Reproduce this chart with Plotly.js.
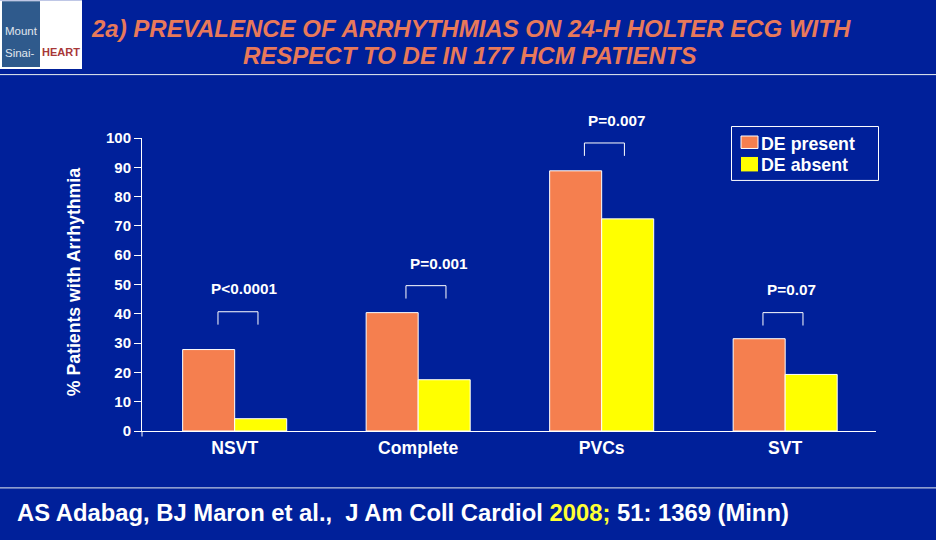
<!DOCTYPE html>
<html><head><meta charset="utf-8"><script src="https://cdn.plot.ly/plotly-3.0.1.min.js"></script>
<style>html,body{margin:0;padding:0;background:#00209A}</style></head><body><div id="c" style="width:936px;height:540px"></div>
<script>
const categories=["NSVT","Complete","PVCs","SVT"];
const dePresent=[27.8,40.4,88.8,31.5];
const deAbsent=[4.2,17.5,72.4,19.3];
const pLabels=["P<0.0001","P=0.001","P=0.007","P=0.07"];
const pLabelY=[48.6,57.1,106.1,48.2];
const pLabelOffset=[0.051,0.111,0.083,0.032];
const bracketTop=[40.7,49.6,98.3,40.4];
const bracketOffset=[0.018,0.0425,0.015,-0.012];
const BG="#00209A", ORANGE="#F57F4F", YELLOW="#FFFF00", FONT='"Liberation Sans",Arial,sans-serif';
const W=936,H=540,L=142,R=876,T=138,B=431.5;
const annos=[], shapes=[];
function paperText(text,x,y,size,color,extra){annos.push(Object.assign({xref:'paper',yref:'paper',x:(x-L)/(R-L),y:(B-y)/(B-T),text,showarrow:false,font:{family:FONT,size,color},xanchor:'center',yanchor:'middle'},extra||{}));}
function line(x0,y0,x1,y1,w,c){shapes.push({type:'line',xref:'paper',yref:'paper',x0:(x0-L)/(R-L),x1:(x1-L)/(R-L),y0:(B-y0)/(B-T),y1:(B-y1)/(B-T),line:{color:c||'#fff',width:w||1}});}
function rect(x0,y0,x1,y1,fill,lc,lw,above){shapes.push({type:'rect',layer:above?'above':'below',xref:'paper',yref:'paper',x0:(x0-L)/(R-L),x1:(x1-L)/(R-L),y0:(B-y0)/(B-T),y1:(B-y1)/(B-T),fillcolor:fill,line:{color:lc||fill,width:lw===undefined?0:lw}});}
// title
const tc="#E8795A";
paperText("<b><i>2a) PREVALENCE OF ARRHYTHMIAS ON 24-H HOLTER ECG WITH</i></b>",470.5,28,24,tc);
paperText("<b><i>RESPECT TO DE IN 177 HCM PATIENTS</i></b>",469.5,55.5,24,tc);
line(0,74.5,936,74.5,1,"#E8EEF0");
line(0,488.5,936,488.5,1,"#E8EEF0");
// logo
rect(0,0,82,69,"#fff");
rect(2,1,40,67,"#2F5A8C");
paperText("Mount",3,31,11.5,"#E0E6EE",{xanchor:'left'});
paperText("Sinai-",3,53,11.5,"#E0E6EE",{xanchor:'left'});
paperText("<b>HEART</b>",40,52,11,"#A83838",{xanchor:'left'});
// footer
paperText('<b>AS Adabag, BJ Maron et al.,  J Am Coll Cardiol <span style="color:#FFFF33">2008;</span> 51: 1369 (Minn)</b>',15,513.5,23.8,"#fff",{xanchor:'left'});
// y title
paperText("<b>% Patients with Arrhythmia</b>",74,282.5,17.7,"#fff",{textangle:-90});
// legend
rect(731.5,126.5,878.5,180.5,"rgba(0,0,0,0)","#fff",1,true);
rect(741,136,758,148.5,ORANGE,"#fff",1,true);
rect(741,157,758,171.5,YELLOW,YELLOW,0,true);
paperText("<b>DE present</b>",759,144,17.8,"#fff",{xanchor:'left'});
paperText("<b>DE absent</b>",759,165,17.8,"#fff",{xanchor:'left'});
// x-axis tick stub
line(142,431.5,142,437,1);
// p-value brackets and labels, on the category scale
categories.forEach((c,i)=>{
  const m=i+bracketOffset[i], hw=0.109, t=bracketTop[i], d=4.4;
  [[m-hw,t,m-hw,t-d],[m+hw,t,m+hw,t-d],[m-hw,t,m+hw,t]].forEach(s=>
    shapes.push({type:'line',xref:'x',yref:'y',x0:s[0],y0:s[1],x1:s[2],y1:s[3],line:{color:'#fff',width:1}}));
  annos.push({xref:'x',yref:'paper',x:i+pLabelOffset[i],y:pLabelY[i]/100,text:'<b>'+pLabels[i].replace('<','&lt;')+'</b>',showarrow:false,font:{family:FONT,size:15.3,color:'#fff'},xanchor:'center',yanchor:'middle'});
});
const bar=(name,y,color)=>({type:'bar',name,x:categories,y,marker:{color,line:{color:'#fff',width:1}},hoverinfo:'x+y'});
Plotly.newPlot('c',[bar('DE present',dePresent,ORANGE),bar('DE absent',deAbsent,YELLOW)],{
 width:W,height:H,paper_bgcolor:BG,plot_bgcolor:BG,showlegend:false,barmode:'group',bargap:0.433,bargroupgap:0,
 margin:{l:L,r:W-R,t:T,b:H-B,pad:0},
 font:{family:FONT,color:'#fff'},
 xaxis:{type:'category',range:[-0.505,3.495],showgrid:false,zeroline:false,showline:true,linecolor:'#fff',linewidth:1,ticks:'',tickfont:{size:17.6,color:'#fff',family:'"Liberation Sans"',weight:'bold'},ticklabelstandoff:1},
 yaxis:{range:[0,100],dtick:10,tick0:0,showgrid:false,zeroline:false,showline:true,linecolor:'#fff',linewidth:1,ticks:'outside',ticklen:7,tickcolor:'#fff',tickfont:{size:15,color:'#fff',family:'"Liberation Sans"',weight:'bold'}},
 annotations:annos,shapes
},{displayModeBar:false,staticPlot:true});
</script></body></html>
